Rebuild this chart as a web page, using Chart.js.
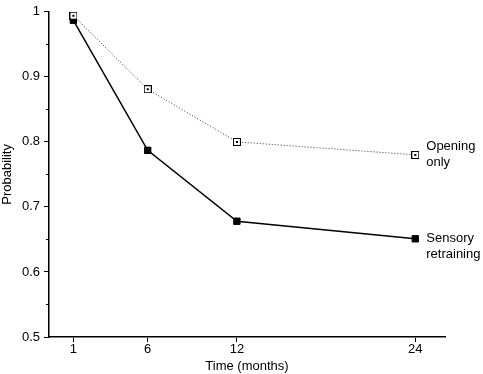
<!DOCTYPE html>
<html>
<head>
<meta charset="utf-8">
<script src="https://cdn.jsdelivr.net/npm/chart.js@4"></script>
<style>
  body { margin: 0; background: #fff; }
  #wrap { width: 483px; height: 374px; }
</style>
</head>
<body>
<div id="wrap"><canvas id="chart" width="483" height="374"></canvas></div>
<script>
'use strict';
var MONTHS = [1, 6, 12, 24];
var OPENING_ONLY = [0.994, 0.881, 0.800, 0.780];
var SENSORY_RETRAINING = [0.987, 0.787, 0.678, 0.651];
var X_TICKS = [1, 6, 12, 24];
var Y_TICKS = [0.5, 0.6, 0.7, 0.8, 0.9, 1];
var Y_MINOR = [0.55, 0.65, 0.75, 0.85, 0.95];
var SERIES_LABELS = [['Opening', 'only'], ['Sensory', 'retraining']];

Chart.defaults.font.family = '"Liberation Sans", Arial, sans-serif';
Chart.defaults.font.size = 13;
Chart.defaults.color = '#000';

var toPoints = function (ys) {
    return MONTHS.map((m, i) => ({ x: m, y: ys[i] }));
};

// open square with a little dot in the middle
var openSquare = document.createElement('canvas');
openSquare.width = 8;
openSquare.height = 8;
var sctx = openSquare.getContext('2d');
sctx.fillStyle = '#000';
sctx.fillRect(0, 0, 8, 8);
sctx.fillStyle = '#fff';
sctx.fillRect(1, 1, 6, 6);
sctx.fillStyle = '#000';
sctx.fillRect(3, 3, 2, 2);

var sideLabels = {
    id: 'sideLabels',
    afterDatasetsDraw(chart) {
        var c = chart.ctx;
        c.save();
        c.fillStyle = '#000';
        c.font = '13px "Liberation Sans", Arial, sans-serif';
        c.textBaseline = 'middle';
        c.textAlign = 'left';
        chart.data.datasets.forEach((ds, i) => {
            var pts = chart.getDatasetMeta(i).data;
            var last = pts[pts.length - 1];
            var lines = SERIES_LABELS[i];
            var y0 = i === 0 ? last.y - 8 : last.y;
            lines.forEach((t, j) => c.fillText(t, last.x + 11, y0 + j * 16));
        });
        c.restore();
    }
};

var minorTicks = {
    id: 'minorTicks',
    afterDraw(chart) {
        var c = chart.ctx;
        var y = chart.scales.y;
        var left = chart.chartArea.left;
        c.save();
        c.strokeStyle = '#000';
        c.lineWidth = 1;
        Y_MINOR.forEach(v => {
            var py = Math.round(y.getPixelForValue(v)) + 0.5;
            c.beginPath();
            c.moveTo(left - 3, py);
            c.lineTo(left, py);
            c.stroke();
        });
        c.restore();
    }
};

var ctx = document.getElementById('chart').getContext('2d');
new Chart(ctx, {
    type: 'line',
    data: {
        datasets: [{
            label: 'Opening only',
            data: toPoints(OPENING_ONLY),
            borderColor: '#333',
            borderWidth: 1,
            borderDash: [1, 2],
            pointStyle: openSquare,
            clip: false
        }, {
            label: 'Sensory retraining',
            data: toPoints(SENSORY_RETRAINING),
            borderColor: '#000',
            borderWidth: 1.5,
            pointStyle: 'rect',
            pointRadius: 4.5,
            pointBorderWidth: 1,
            pointBackgroundColor: '#000',
            pointBorderColor: '#000',
            clip: false
        }]
    },
    options: {
        responsive: false,
        animation: false,
        layout: { padding: { top: 5, right: 38, bottom: 0, left: 0 } },
        plugins: {
            legend: { display: false },
            tooltip: { enabled: false }
        },
        scales: {
            x: {
                type: 'linear',
                min: -0.64,
                max: 26,
                afterBuildTicks: s => { s.ticks = X_TICKS.map(v => ({ value: v })); },
                afterFit: s => { s.height = 37; },
                grid: { drawOnChartArea: false, tickLength: 5, tickColor: '#000', tickWidth: 1 },
                border: { color: '#000', width: 1.5 },
                ticks: { padding: 0, maxRotation: 0, autoSkip: false },
                title: { display: true, text: 'Time (months)', padding: { top: 0, bottom: 0 } }
            },
            y: {
                min: 0.5,
                max: 1,
                afterBuildTicks: s => { s.ticks = Y_TICKS.map(v => ({ value: v })); },
                afterFit: s => { s.width = 49; },
                grid: { drawOnChartArea: false, tickLength: 5, tickColor: '#000', tickWidth: 1 },
                border: { color: '#000', width: 1.5 },
                ticks: {
                    padding: 4,
                    callback: v => (v === 1 ? '1' : v.toFixed(1))
                },
                title: { display: true, text: 'Probability', padding: { top: 0, bottom: 0 } }
            }
        }
    },
    plugins: [sideLabels, minorTicks]
});
</script>
</body>
</html>
